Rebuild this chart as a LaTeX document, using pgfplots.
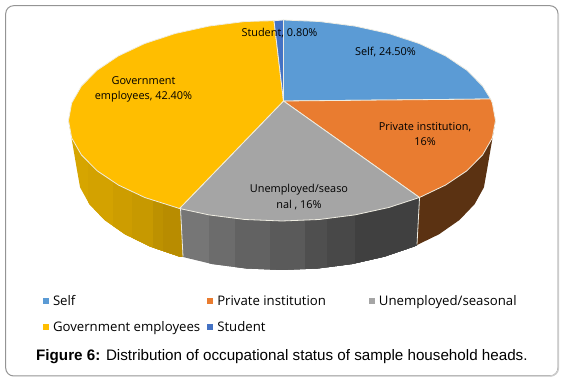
\documentclass[border=0pt]{standalone}
\usepackage{pgfplots}
\usepackage{fontspec}
\pgfplotsset{compat=1.18}
\setmainfont{Open Sans}
\newfontfamily\capfont{Liberation Sans}
\definecolor{cself}{HTML}{5B9BD5}
\definecolor{cpriv}{HTML}{E97C30}
\definecolor{cunem}{HTML}{A5A5A5}
\definecolor{cgov}{HTML}{FFBE00}
\definecolor{cstud}{HTML}{4472C4}
\definecolor{edge}{HTML}{EFEDE2}
\begin{document}
\begin{tikzpicture}[x=1pt,y=1pt]
\path[use as bounding box] (0,0) rectangle (563,382);
\draw[draw=black!42,line width=1pt,rounded corners=8pt] (5.7,376.3) rectangle (558,6);
\draw[draw=black!20,line width=1.4pt] (558.4,368) -- (558.4,14) arc (0:-90:8pt);
\begin{axis}[at={(0,0)},anchor=south west,scale only axis,width=563pt,height=382pt,
  xmin=0,xmax=563,ymin=0,ymax=382,y dir=reverse,hide axis,clip=false,
  legend columns=3,
  legend cell align=left,
  legend image code/.code={\fill[#1,draw=none] (0pt,-3pt) rectangle (6pt,3pt);\path[draw=none,fill=none] (0pt,0pt) -- (8pt,0pt);},
  legend style={at={(axis cs:43,293.5)},anchor=north west,draw=none,fill=none,
    font=\fontsize{13.2}{16}\selectfont,row sep=10pt,inner sep=0pt,outer sep=0pt,
    nodes={inner sep=2pt},
    /tikz/column 2/.style={column sep=5pt},
    /tikz/column 4/.style={column sep=41pt}},
  every axis plot/.append style={line join=round}]
% side walls
\addplot[forget plot,fill={rgb,255:red,214;green,165;blue,0},draw=none] coordinates {(68.5,120.5)(77,170)(80.1,187.4)(89.4,204.2)(104.5,220)(125,234.3)(150.2,246.6)(179.5,256.6)(183,257)(180,208)};
\addplot[forget plot,fill={rgb,255:red,211;green,162;blue,0},draw=none] coordinates {(88,160)(88,201.7)(89.4,204.2)(104.5,220)(125,234.3)(150.2,246.6)(179.5,256.6)(183,257)(180,208)};
\addplot[forget plot,fill={rgb,255:red,205;green,157;blue,0},draw=none] coordinates {(113,170)(113,226)(125,234.3)(150.2,246.6)(179.5,256.6)(183,257)(180,208)};
\addplot[forget plot,fill={rgb,255:red,199;green,153;blue,0},draw=none] coordinates {(132,185)(132,237.7)(150.2,246.6)(179.5,256.6)(183,257)(180,208)};
\addplot[forget plot,fill={rgb,255:red,189;green,145;blue,0},draw=none] coordinates {(153,195)(153,247.6)(179.5,256.6)(183,257)(180,208)};
\addplot[forget plot,fill={rgb,255:red,184;green,140;blue,0},draw=none] coordinates {(163,200)(163,251)(179.5,256.6)(183,257)(180,208)};
\addplot[forget plot,fill={rgb,255:red,118;green,118;blue,118},draw=none] coordinates {(180,208)(183,257)(211.9,264)(246.4,268.5)(282,270)(317.6,268.5)(352.1,264)(384.5,256.6)(413.8,246.6)(417,245)(420,197.5)};
\addplot[forget plot,fill={rgb,255:red,108;green,108;blue,108},draw=none] coordinates {(209,205)(209,263.3)(211.9,264)(246.4,268.5)(282,270)(317.6,268.5)(352.1,264)(384.5,256.6)(413.8,246.6)(417,245)(420,197.5)};
\addplot[forget plot,fill={rgb,255:red,98;green,98;blue,98},draw=none] coordinates {(235,205)(235,267)(246.4,268.5)(282,270)(317.6,268.5)(352.1,264)(384.5,256.6)(413.8,246.6)(417,245)(420,197.5)};
\addplot[forget plot,fill={rgb,255:red,90;green,90;blue,90},draw=none] coordinates {(270,205)(270,269.5)(282,270)(317.6,268.5)(352.1,264)(384.5,256.6)(413.8,246.6)(417,245)(420,197.5)};
\addplot[forget plot,fill={rgb,255:red,79;green,79;blue,79},draw=none] coordinates {(305,205)(305,269)(317.6,268.5)(352.1,264)(384.5,256.6)(413.8,246.6)(417,245)(420,197.5)};
\addplot[forget plot,fill={rgb,255:red,72;green,72;blue,72},draw=none] coordinates {(327,205)(327,267.3)(352.1,264)(384.5,256.6)(413.8,246.6)(417,245)(420,197.5)};
\addplot[forget plot,fill={rgb,255:red,64;green,64;blue,64},draw=none] coordinates {(355,205)(355,263.3)(384.5,256.6)(413.8,246.6)(417,245)(420,197.5)};
\addplot[forget plot,fill={rgb,255:red,91;green,50;blue,18},draw=none] coordinates {(495.5,120.5)(487,170)(483.9,187.4)(474.6,204.2)(459.5,220)(439,234.3)(417,245)(420,197.5)};
\addplot[forget plot,draw=edge,line width=0.8pt] coordinates {(180.5,208)(183,256.5)};
\addplot[forget plot,draw=edge,line width=0.8pt] coordinates {(419.5,198)(417,244.5)};
% top surface
\addplot[fill=cself,draw=edge,line width=0.8pt] coordinates {(283.5,101)(283.5,20)(319.1,21.5)(355,26.1)(388.75,33.5)(419.2,43.5)(445.5,55.9)(466.9,70.25)(482.6,86.1)(490.6,99)} -- cycle;
\addlegendentry{Self}
\addplot[fill=cpriv,draw=edge,line width=0.8pt] coordinates {(283.5,101)(490.6,99)(492.3,103)(495.5,120.5)(492.3,138)(482.6,154.9)(466.9,170.75)(445.5,185.1)(419.5,197.5)} -- cycle;
\addlegendentry{Private institution}
\addplot[fill=cunem,draw=edge,line width=0.8pt] coordinates {(283.5,101)(419.5,197.5)(388.75,207.5)(355,214.9)(319.1,219.5)(282,221)(244.9,219.5)(209,214.9)(179.5,208.5)} -- cycle;
\addlegendentry{Unemployed/seasonal}
\addplot[fill=cgov,draw=edge,line width=0.8pt] coordinates {(283.5,101)(179.5,208.5)(144.8,197.5)(118.5,185.1)(97.1,170.75)(81.4,154.9)(71.7,138)(68.5,120.5)(71.7,103)(81.4,86.1)(97.1,70.25)(118.5,55.9)(144.8,43.5)(175.25,33.5)(209,26.1)(244.9,21.5)(274,20.7)} -- cycle;
\addlegendentry{Government employees}
\addplot[fill=cstud,draw=edge,line width=0.8pt] coordinates {(283.5,101)(274,20.7)(283.5,20)} -- cycle;
\addlegendentry{Student}
% data labels
\node[align=center,font=\fontsize{10.9}{15}\selectfont] at (axis cs:279.5,33) {Student, 0.80\%};
\node[align=center,font=\fontsize{10.9}{15}\selectfont] at (axis cs:385.5,52) {Self, 24.50\%};
\node[align=center,font=\fontsize{10.9}{15}\selectfont] at (axis cs:425,134.5) {Private institution,\\16\%};
\node[align=center,font=\fontsize{10.9}{15}\selectfont] at (axis cs:143.5,89.5) {Government\\employees, 42.40\%};
\node[align=center,font=\fontsize{10.9}{16}\selectfont] at (axis cs:299,197) {Unemployed/seaso\\nal , 16\%};
\node[anchor=west,font=\capfont\fontsize{15.2}{17}\selectfont,inner sep=0pt] at (axis cs:36,357) {\textbf{Figure 6:} Distribution of occupational status of sample household heads.};
\end{axis}
\end{tikzpicture}
\end{document}
